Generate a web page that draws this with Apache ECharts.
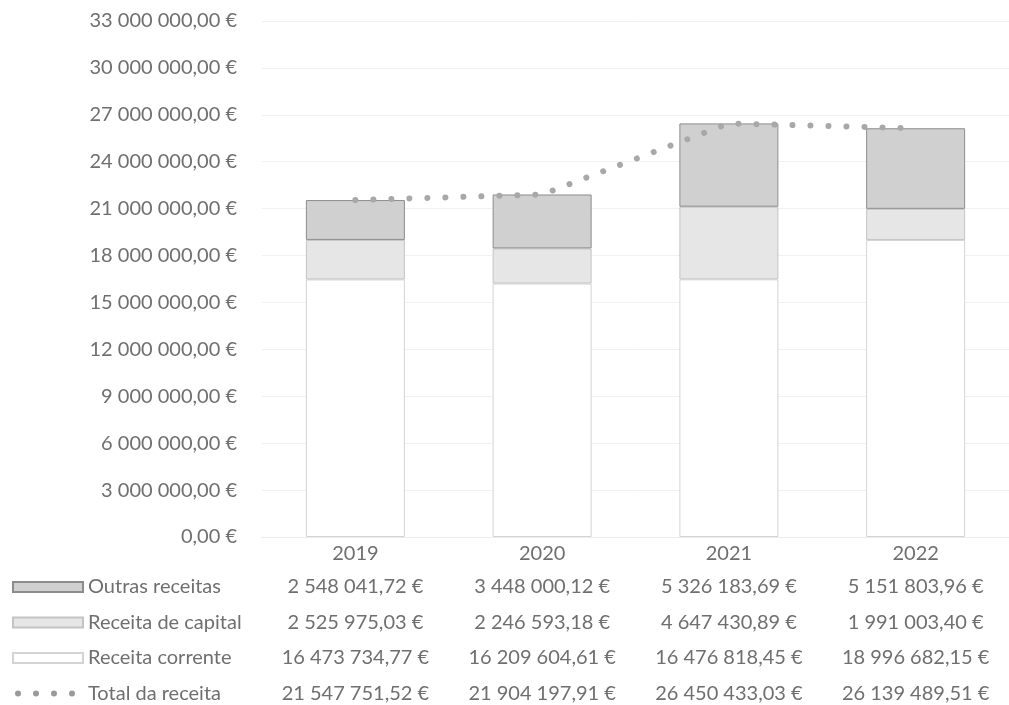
<!DOCTYPE html>
<html>
<head>
<meta charset="utf-8">
<script src="https://cdn.jsdelivr.net/npm/echarts@6/dist/echarts.min.js"></script>
<style>
html,body{margin:0;padding:0;background:#fff;}
#chart{width:1009px;height:705px;}
</style>
</head>
<body>
<div id="chart"></div>
<script>
const categories = ['2019', '2020', '2021', '2022'];
const outrasReceitas = [2548041.72, 3448000.12, 5326183.69, 5151803.96];
const receitaCapital = [2525975.03, 2246593.18, 4647430.89, 1991003.40];
const receitaCorrente = [16473734.77, 16209604.61, 16476818.45, 18996682.15];
const totalReceita = [21547751.52, 21904197.91, 26450433.03, 26139489.51];
const yMax = 33000000;
const yInterval = 3000000;

function eur(v) {
  const s = Number(v).toFixed(2);
  const parts = s.split('.');
  const i = parts[0].replace(/\B(?=(\d{3})+(?!\d))/g, ' ');
  return i + ',' + parts[1] + ' €';
}

const FONT = 'Lato';
const TEXT = '#6f6f6f';
const dotsIcon = 'path://M0,0L0.01,0M70,10L69.99,10' +
  'M2,5a3,3 0 1,0 6,0a3,3 0 1,0 -6,0' +
  'M20,5a3,3 0 1,0 6,0a3,3 0 1,0 -6,0' +
  'M38,5a3,3 0 1,0 6,0a3,3 0 1,0 -6,0' +
  'M56,5a3,3 0 1,0 6,0a3,3 0 1,0 -6,0';

const chart = echarts.init(document.getElementById('chart'), null, {renderer: 'canvas'});
chart.setOption({
  animation: false,
  backgroundColor: '#ffffff',
  textStyle: {fontFamily: FONT, color: TEXT},
  grid: {left: 262, top: 21, width: 760, height: 516, containLabel: false},
  legend: {
    orient: 'vertical',
    left: 12,
    top: 577,
    height: 300,
    padding: 0,
    itemWidth: 70,
    itemHeight: 10,
    itemGap: 15.5,
    textStyle: {fontFamily: FONT, fontSize: 20, color: TEXT, lineHeight: 20},
    data: [
      {name: 'Outras receitas', icon: 'rect'},
      {name: 'Receita de capital', icon: 'rect'},
      {name: 'Receita corrente', icon: 'rect'},
      {name: 'Total da receita', icon: dotsIcon, itemStyle: {color: '#9a9a9a', borderWidth: 0}}
    ]
  },
  xAxis: {
    type: 'category',
    data: categories,
    axisLine: {show: true, lineStyle: {color: '#ececec'}},
    axisTick: {show: false},
    axisLabel: {
      margin: 1,
      interval: 0,
      formatter: function (val, idx) {
        return '{y|' + val + '}\n{v|' + eur(outrasReceitas[idx]) + '}\n{v|' + eur(receitaCapital[idx]) +
          '}\n{v|' + eur(receitaCorrente[idx]) + '}\n{v|' + eur(totalReceita[idx]) + '}';
      },
      rich: {
        y: {fontFamily: FONT, fontSize: 20, color: TEXT, lineHeight: 31},
        v: {fontFamily: FONT, fontSize: 20, color: TEXT, lineHeight: 35.5}
      }
    }
  },
  yAxis: {
    type: 'value',
    min: 0,
    max: yMax,
    interval: yInterval,
    axisLine: {show: false},
    axisTick: {show: false},
    splitLine: {lineStyle: {color: '#f1f1f1'}},
    axisLabel: {
      margin: 25,
      fontFamily: FONT,
      fontSize: 20,
      color: TEXT,
      formatter: function (v) { return eur(v); }
    }
  },
  series: [
    {
      name: 'Receita corrente', type: 'bar', stack: 'r', barWidth: 99,
      data: receitaCorrente,
      itemStyle: {color: '#ffffff', borderColor: '#d4d4d4', borderWidth: 1}
    },
    {
      name: 'Receita de capital', type: 'bar', stack: 'r', barWidth: 99,
      data: receitaCapital,
      itemStyle: {color: '#e6e6e6', borderColor: '#c4c4c4', borderWidth: 1}
    },
    {
      name: 'Outras receitas', type: 'bar', stack: 'r', barWidth: 99,
      data: outrasReceitas,
      itemStyle: {color: '#d0d0d0', borderColor: '#8c8c8c', borderWidth: 1}
    },
    {
      name: 'Total da receita', type: 'line', z: 5,
      data: totalReceita,
      symbol: 'none',
      itemStyle: {color: '#a8a8a8'},
      lineStyle: {color: '#a8a8a8', width: 6, type: [0.01, 18], cap: 'round'}
    }
  ]
});
</script>
</body>
</html>
